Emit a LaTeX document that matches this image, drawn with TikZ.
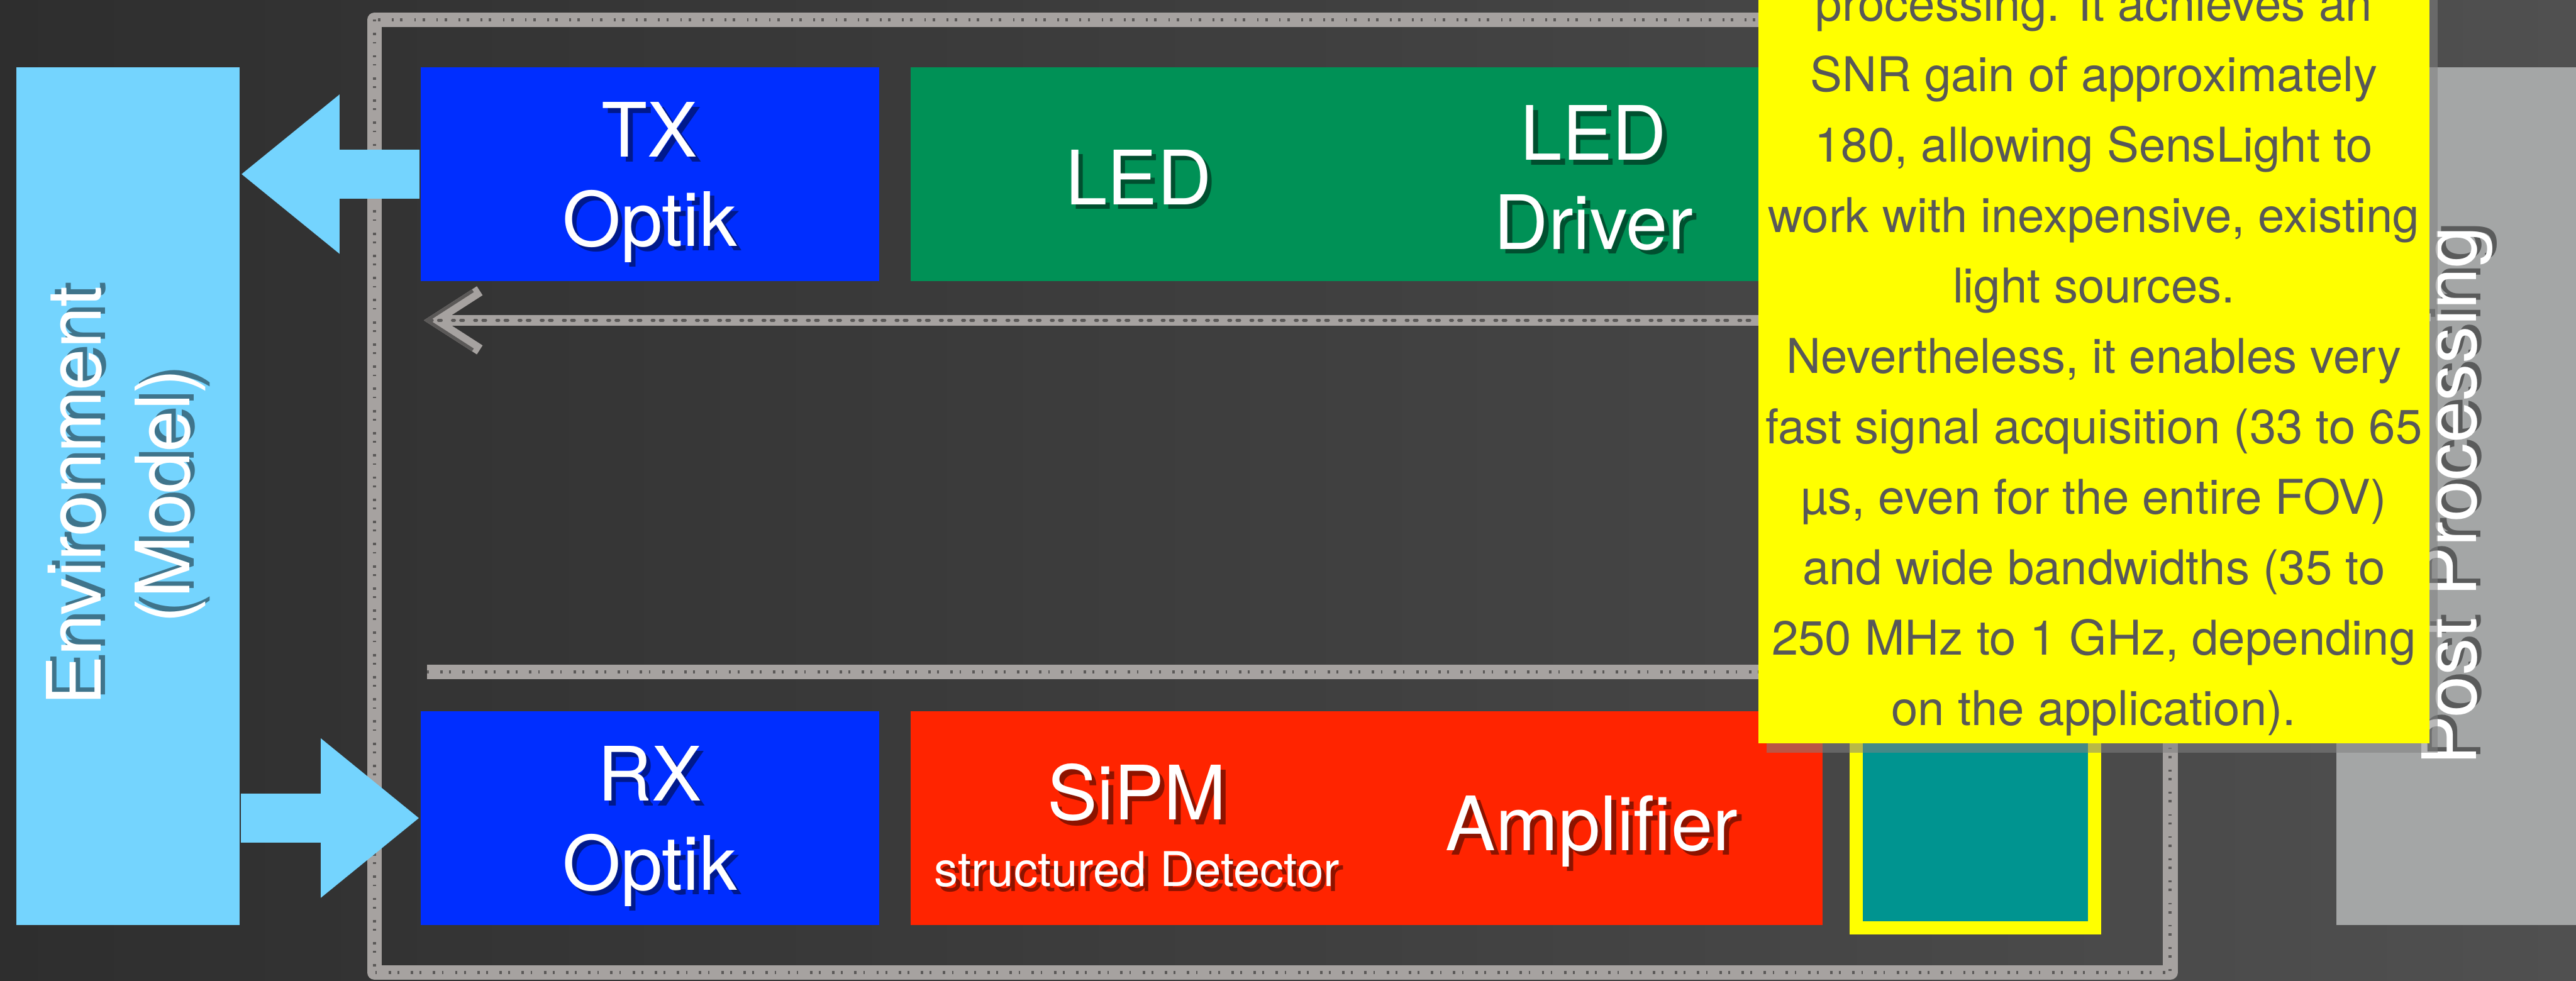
\documentclass[tikz,border=0pt]{standalone}
\usepackage{fontspec}
\setmainfont{TeX Gyre Heros}
\definecolor{envblue}{RGB}{116,212,254}
\definecolor{optblue}{RGB}{0,46,255}
\definecolor{ledgreen}{RGB}{0,145,86}
\definecolor{detred}{RGB}{255,36,0}
\definecolor{adcteal}{RGB}{0,148,144}
\definecolor{noteyellow}{RGB}{255,255,0}
\definecolor{notegray}{RGB}{88,88,88}
\definecolor{postgray}{RGB}{164,166,166}
\definecolor{chalk}{RGB}{166,162,160}
\definecolor{boarddark}{RGB}{46,46,46}
\definecolor{boardlight}{RGB}{80,80,80}
\usepackage{tikz}
\usetikzlibrary{arrows.meta,positioning,shadows}
% white label text with a soft dark drop shadow
\newcommand\shtxt[1]{\rlap{\kern0.8pt\raisebox{-0.8pt}{\pgfsetfillopacity{0.45}\textcolor{black}{#1}}}\pgfsetfillopacity{1}#1}

\begin{document}
\begin{tikzpicture}[
  x=0.1mm, y=0.1mm,
  node distance=1.8mm,
  blk/.style={
    fill=#1, text=white, inner sep=0pt,
    minimum height=13mm, text depth=0pt, align=center,
    font=\fontsize{13}{15.4}\selectfont
  },
  tall/.style={
    fill=#1, text=white, inner sep=0pt, rotate=90,
    minimum width=52.2mm, minimum height=13.6mm, align=center,
    font=\fontsize{13}{15.4}\selectfont
  },
  lbl/.style={text=white, inner sep=0pt, text depth=0pt, align=center,
    font=\fontsize{13}{15.4}\selectfont},
  chalkline/.style={
    draw=chalk, line width=0.9mm, line join=round,
    postaction={draw=chalk!55!black, line width=0.2mm, dash pattern=on 0.1mm off 0.7mm on 0.15mm off 0.4mm}
  },
  chalkarrow/.style={
    chalkline, line width=0.65mm, line cap=round,
    -{Straight Barb[length=2.8mm, width=3.6mm]}
  },
  fat/.style={draw=envblue, line width=3mm, -{Triangle[length=6mm, width=9.3mm]}}
]
\useasboundingbox (0,0) rectangle (1568,-597);
\clip (0,0) rectangle (1568,-597);
\shade[left color=boarddark, right color=boardlight] (0,0) rectangle (1568,-597);

% chalk frame and signal lines
\draw[chalkline] (228,-12) rectangle (1321,-592);
\coordinate (fbstart) at (1100,-195);
\coordinate (fbend) at (258,-195);
\coordinate (rxline) at (260,-409);
\coordinate (rxlineend) at (1100,-409);
\draw[chalkarrow] (fbstart) -- (fbend);
\draw[chalkline] (rxline) -- (rxlineend);

% blocks
\node[tall=envblue] (env) at (78,-302) {\shtxt{Environment}\\\shtxt{(Model)}};
\node[blk=optblue, minimum width=27.9mm] (tx) at (395.5,-106) {\shtxt{TX}\\\shtxt{Optik}};
\node[blk=ledgreen, minimum width=55.5mm, right=of tx] (ledblk) {};
\node[blk=optblue, minimum width=27.9mm] (rx) at (395.5,-498) {\shtxt{RX}\\\shtxt{Optik}};
\node[blk=detred, minimum width=55.5mm, right=of rx] (detblk) {};
\node[lbl] (led) at (693,-108) {\shtxt{LED}};
\node[lbl] (drv) at (970,-108) {\shtxt{LED}\\\shtxt{Driver}};
\node[lbl] (sipm) at (692,-482) {\shtxt{SiPM}};
\node[lbl, font=\fontsize{8.3}{10}\selectfont] (sdet) at (692,-529) {\shtxt{structured Detector}};
\node[lbl] (amp) at (969,-501) {\shtxt{Amplifier}};
\node[draw=noteyellow, line width=0.8mm, fill=adcteal, inner sep=0pt,
  minimum width=14.5mm, minimum height=12.8mm] (adc) at (1202.5,-501) {};
\node[tall=postgray, minimum height=15mm] (post) at (1497,-302) {\shtxt{Post Processing}};

% env is turned, so its south side faces right
\draw[fat] (tx.west) -- (env.south |- tx.west);
\draw[fat] (env.south |- rx.west) -- (rx.west);

% note
\node[fill=noteyellow, text=notegray, align=center, anchor=south,
  minimum width=40.7mm, inner sep=1.2pt,
  font=\fontsize{8.3}{12.2}\selectfont,
  drop shadow={shadow xshift=0.5mm, shadow yshift=-0.6mm, opacity=0.55}]
  (note) at (1274.5,-453)
  {processing. It achieves an\\SNR gain of approximately\\180, allowing SensLight to\\work with inexpensive, existing\\light sources.\\Nevertheless, it enables very\\fast signal acquisition (33 to 65\\µs, even for the entire FOV)\\and wide bandwidths (35 to\\250 MHz to 1 GHz, depending\\on the application).};
\end{tikzpicture}
\end{document}
